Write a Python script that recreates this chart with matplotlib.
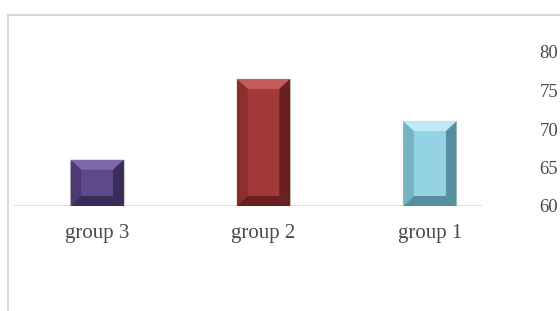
import matplotlib.pyplot as plt
from matplotlib.patches import Polygon, Rectangle
from matplotlib.lines import Line2D

# data
groups = ["group 3", "group 2", "group 1"]
values = [66, 76.5, 71]
base_colors = ["#5e4a8a", "#a23a3a", "#93d3e3"]
light_colors = ["#7d69ab", "#c55c5c", "#bfeaf5"]
side_colors = ["#4c3b73", "#8a2e2e", "#79b4c3"]
dark_colors = ["#3a2c58", "#6a2020", "#56909f"]
yticks = [60, 65, 70, 75, 80]

fig = plt.figure(figsize=(5.6, 3.11), dpi=100)
ax = fig.add_axes([14 / 560, 105 / 311, 499 / 560, 154 / 311])

w = 0.32
bx = 0.065
by = 1.3
for i, (v, c, lc, sc, dc) in enumerate(zip(values, base_colors, light_colors, side_colors, dark_colors)):
    ax.bar(i, v - 60, bottom=60, width=w, color=c, edgecolor="#d0d0d0", linewidth=0.8, zorder=2)
    x0, x1 = i - w / 2, i + w / 2
    y0, y1 = 60, v
    # bevel faces
    faces = [
        ([(x0, y1), (x1, y1), (x1 - bx, y1 - by), (x0 + bx, y1 - by)], lc),
        ([(x0, y0), (x0, y1), (x0 + bx, y1 - by), (x0 + bx, y0 + by)], sc),
        ([(x1, y0), (x1, y1), (x1 - bx, y1 - by), (x1 - bx, y0 + by)], dc),
        ([(x0, y0), (x1, y0), (x1 - bx, y0 + by), (x0 + bx, y0 + by)], dc),
    ]
    for pts, fc in faces:
        ax.add_patch(Polygon(pts, closed=True, facecolor=fc, edgecolor="none", zorder=3))
    ax.add_patch(Rectangle((x0 + bx, y0 + by), w - 2 * bx, (y1 - y0) - 2 * by,
                           facecolor=c, edgecolor="none", zorder=3))

ax.set_xlim(-0.5, 2.5)
ax.set_ylim(60, 80)
ax.set_xticks(range(len(groups)))
ax.set_xticklabels(groups)
ax.set_yticks(yticks)
ax.yaxis.tick_right()
ax.tick_params(axis="both", length=0, colors="#4a4a4a")
ax.tick_params(axis="y", pad=19, labelsize=13.5)
ax.tick_params(axis="x", pad=13, labelsize=15)
for lab in ax.get_xticklabels() + ax.get_yticklabels():
    lab.set_fontfamily("Liberation Serif")
for s in ax.spines.values():
    s.set_visible(False)
ax.axhline(60, xmin=0, xmax=(481 - 14) / 499, color="#d9d9d9", linewidth=1.2, zorder=1)

# outer chart border
fig.add_artist(Line2D([8 / 560, 8 / 560], [0, 1 - 15 / 311], color="#d9d9d9", linewidth=1.5))
fig.add_artist(Line2D([8 / 560, 1], [1 - 15 / 311, 1 - 15 / 311], color="#d9d9d9", linewidth=1.5))

fig.savefig("out.png", dpi=100)
